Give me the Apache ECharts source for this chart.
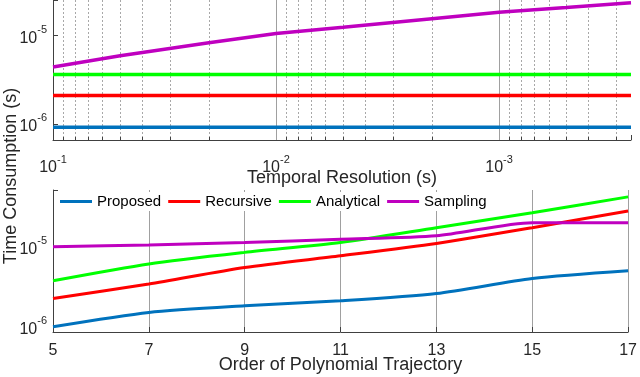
<!DOCTYPE html>
<html>
<head>
<meta charset="utf-8">
<script src="https://cdn.jsdelivr.net/npm/echarts@6/dist/echarts.min.js"></script>
<style>
  html, body { margin: 0; padding: 0; background: #fff; }
  #chart { width: 640px; height: 377px; }
</style>
</head>
<body>
<div id="chart"></div>
<script>
// 上图: 时间分辨率 (s)
const resolution = [0.1, 0.05, 0.02, 0.01, 0.005, 0.002, 0.001, 0.0005, 0.000256];
const resProposed = [9.15e-7, 9.15e-7, 9.15e-7, 9.15e-7, 9.15e-7, 9.15e-7, 9.15e-7, 9.15e-7, 9.15e-7];
const resRecursive = [2.09e-6, 2.09e-6, 2.09e-6, 2.09e-6, 2.09e-6, 2.09e-6, 2.09e-6, 2.09e-6, 2.09e-6];
const resAnalytical = [3.6e-6, 3.6e-6, 3.6e-6, 3.6e-6, 3.6e-6, 3.6e-6, 3.6e-6, 3.6e-6, 3.6e-6];
const resSampling = [4.37e-6, 5.86e-6, 8.2e-6, 1.045e-5, 1.23e-5, 1.53e-5, 1.81e-5, 2.05e-5, 2.32e-5];
// 网格线: 主 (实线) / 次 (虚线)
const resMajor = [0.01, 0.001];
const resMinor = [0.09, 0.08, 0.07, 0.06, 0.05, 0.04, 0.03, 0.02,
  0.009, 0.008, 0.007, 0.006, 0.005, 0.004, 0.003, 0.002,
  0.0009, 0.0008, 0.0007, 0.0006, 0.0005, 0.0004, 0.0003];

// 下图: 多项式阶数
const order = [5, 7, 9, 11, 13, 15, 17];
const ordProposed = [1.0e-6, 1.51e-6, 1.83e-6, 2.11e-6, 2.6e-6, 4.0e-6, 5.0e-6];
const ordRecursive = [2.26e-6, 3.42e-6, 5.5e-6, 7.7e-6, 1.1e-5, 1.73e-5, 2.8e-5];
const ordAnalytical = [3.76e-6, 6.1e-6, 8.5e-6, 1.13e-5, 1.73e-5, 2.66e-5, 4.2e-5];
const ordSampling = [1.0e-5, 1.05e-5, 1.13e-5, 1.24e-5, 1.37e-5, 2.0e-5, 2.0e-5];

const names = ['Proposed', 'Recursive', 'Analytical', 'Sampling'];
const colors = ['#0072BD', '#FF0000', '#00FF00', '#BF00BF'];

const FONT = '"Liberation Sans", Arial, sans-serif';
const TEXT = '#262626';

// 10^n 标签
function powLabel(v) {
  const e = Math.log10(v);
  if (Math.abs(e - Math.round(e)) > 1e-6) return '';
  return '{b|10}{s|' + Math.round(e) + '}';
}
const powRich = {
  b: { fontSize: 16, fontFamily: FONT, color: TEXT, lineHeight: 22, verticalAlign: 'bottom' },
  s: { fontSize: 11, fontFamily: FONT, color: TEXT, lineHeight: 8, verticalAlign: 'top' }
};

function pairs(xs, ys) {
  return xs.map((x, i) => [x, ys[i]]);
}

// 竖直网格线 (通过坐标轴换算位置)
function vGrid(dash, color, tick) {
  return function (params, api) {
    const cs = params.coordSys;
    const x = Math.round(api.coord([api.value(0), api.value(1)])[0]) + 0.5;
    const children = [{
      type: 'line',
      shape: { x1: x, y1: cs.y, x2: x, y2: cs.y + cs.height },
      style: { stroke: color, lineWidth: 1, lineDash: dash }
    }];
    if (tick) {
      children.push({
        type: 'line',
        shape: { x1: x, y1: cs.y + cs.height - 3, x2: x, y2: cs.y + cs.height },
        style: { stroke: '#404040', lineWidth: 1 }
      });
    }
    return { type: 'group', children: children };
  };
}

function lineSeries(i, grid, xs, ys, width, smooth) {
  return {
    name: names[i],
    type: 'line',
    xAxisIndex: grid,
    yAxisIndex: grid,
    data: pairs(xs, ys),
    showSymbol: false,
    symbol: 'none',
    smooth: smooth,
    itemStyle: { color: colors[i] },
    lineStyle: { color: colors[i], width: width }
  };
}

const axisLineStyle = { color: '#404040', width: 1 };

let myChart = echarts.init(document.getElementById('chart'));
myChart.setOption({
  animation: false,
  grid: [
    { left: 53, right: 9, top: 0, height: 140 },
    { left: 53, right: 9, top: 190, height: 142 }
  ],
  legend: {
    data: names,
    left: 56,
    top: 192,
    icon: 'rect',
    itemWidth: 32,
    itemHeight: 3,
    itemGap: 7,
    padding: [2, 4],
    backgroundColor: '#fff',
    textStyle: { fontSize: 15, fontFamily: FONT, color: '#000' }
  },
  xAxis: [
    {
      gridIndex: 0,
      type: 'log',
      logBase: 10,
      inverse: true,
      min: 0.000256,
      max: 0.1,
      name: 'Temporal Resolution (s)',
      nameLocation: 'middle',
      nameGap: 29,
      nameMoveOverlap: false,
      nameTextStyle: { fontSize: 18, fontFamily: FONT, color: TEXT },
      axisLine: { lineStyle: axisLineStyle },
      axisTick: { inside: true, length: 5, lineStyle: { color: '#404040' } },
      axisLabel: { margin: 14, formatter: powLabel, rich: powRich },
      splitLine: { show: false }
    },
    {
      gridIndex: 1,
      type: 'value',
      min: 5,
      max: 17,
      interval: 2,
      name: 'Order of Polynomial Trajectory',
      nameLocation: 'middle',
      nameGap: 24,
      nameMoveOverlap: false,
      nameTextStyle: { fontSize: 18, fontFamily: FONT, color: TEXT },
      axisLine: { lineStyle: axisLineStyle },
      axisTick: { inside: true, length: 5, lineStyle: { color: '#404040' } },
      axisLabel: { margin: 11, fontSize: 16, fontFamily: FONT, color: TEXT },
      splitLine: { show: true, lineStyle: { color: '#a0a0a0', width: 1 } }
    }
  ],
  yAxis: [
    {
      gridIndex: 0,
      type: 'log',
      logBase: 10,
      min: 6.56e-7,
      max: 2.49e-5,
      axisLine: { show: true, lineStyle: axisLineStyle },
      axisTick: { show: true, inside: true, length: 5, lineStyle: { color: '#404040' } },
      axisLabel: { margin: 6, formatter: powLabel, rich: powRich },
      splitLine: { show: false }
    },
    {
      gridIndex: 1,
      type: 'log',
      logBase: 10,
      min: 8.59e-7,
      max: 5.12e-5,
      axisLine: { show: true, lineStyle: axisLineStyle },
      axisTick: { show: true, inside: true, length: 5, lineStyle: { color: '#404040' } },
      axisLabel: { margin: 6, formatter: powLabel, rich: powRich },
      splitLine: { show: false }
    }
  ],
  graphic: [
    {
      type: 'text',
      x: 11,
      y: 176,
      rotation: Math.PI / 2,
      style: {
        text: 'Time Consumption (s)',
        font: '18px "Liberation Sans", Arial, sans-serif',
        fill: TEXT,
        textAlign: 'center',
        textVerticalAlign: 'middle'
      }
    }
  ],
  series: [
    // 上图网格线
    {
      type: 'custom', xAxisIndex: 0, yAxisIndex: 0, z: 1, silent: true,
      data: resMinor.map(v => [v, 1e-6]),
      renderItem: vGrid([2, 2], '#a8a8a8', true)
    },
    {
      type: 'custom', xAxisIndex: 0, yAxisIndex: 0, z: 1, silent: true,
      data: resMajor.map(v => [v, 1e-6]),
      renderItem: vGrid(null, '#a0a0a0', false)
    },
    // 上图
    lineSeries(0, 0, resolution, resProposed, 3.5, false),
    lineSeries(1, 0, resolution, resRecursive, 3.5, false),
    lineSeries(2, 0, resolution, resAnalytical, 3.5, false),
    lineSeries(3, 0, resolution, resSampling, 3.5, false),
    // 下图
    lineSeries(0, 1, order, ordProposed, 3, 0.25),
    lineSeries(1, 1, order, ordRecursive, 3, 0.25),
    lineSeries(2, 1, order, ordAnalytical, 3, 0.25),
    lineSeries(3, 1, order, ordSampling, 3, 0.25)
  ]
});
</script>
</body>
</html>
